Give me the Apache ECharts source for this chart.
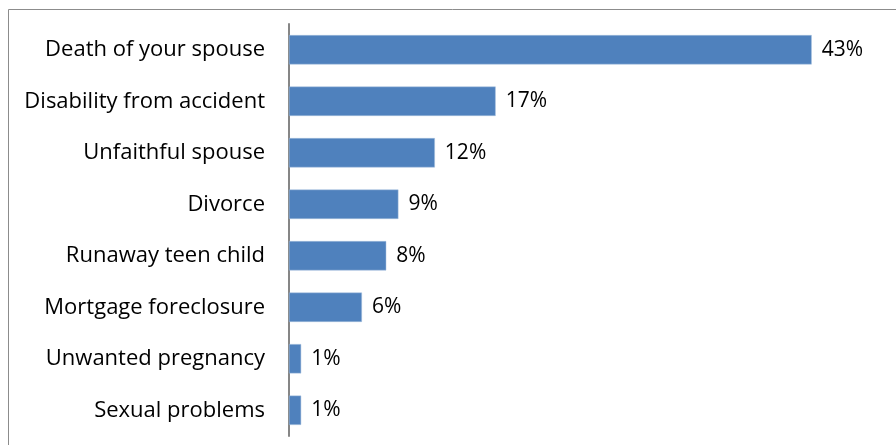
<!DOCTYPE html>
<html>
<head>
<meta charset="utf-8">
<script src="https://cdn.jsdelivr.net/npm/echarts@6/dist/echarts.min.js"></script>
<style>
html,body{margin:0;padding:0;background:#fff;}
#c{width:896px;height:445px;}
</style>
</head>
<body>
<div id="c"></div>
<script>
const categories = [
  "Death of your spouse",
  "Disability from accident",
  "Unfaithful spouse",
  "Divorce",
  "Runaway teen child",
  "Mortgage foreclosure",
  "Unwanted pregnancy",
  "Sexual problems"
];
const percentValues = [43, 17, 12, 9, 8, 6, 1, 1];

const chart = echarts.init(document.getElementById('c'), null, {renderer: 'canvas'});
const fontFam = '"Open Sans", Lato, sans-serif';
chart.setOption({
  backgroundColor: '#ffffff',
  animation: false,
  graphic: [{
    type: 'rect',
    shape: {x: 8.5, y: 9.5, width: 900, height: 450},
    style: {fill: 'none', stroke: '#8c8c8c', lineWidth: 1},
    silent: true,
    z: -1
  }],
  grid: {left: 289, right: 60, top: 24, bottom: 9, containLabel: false},
  xAxis: {
    type: 'value',
    min: 0,
    max: 45,
    show: false
  },
  yAxis: {
    type: 'category',
    data: categories,
    inverse: true,
    axisLine: {show: true, lineStyle: {color: '#868686', width: 2}},
    axisTick: {show: false},
    axisLabel: {
      color: '#000',
      fontFamily: fontFam,
      fontSize: 22,
      margin: 24
    },
    splitLine: {show: false}
  },
  series: [{
    type: 'bar',
    data: percentValues,
    barCategoryGap: '43%',
    itemStyle: {color: '#4f81bd', borderColor: '#a7c0de', borderWidth: 0.5},
    label: {
      show: true,
      position: 'right',
      distance: 10,
      color: '#000',
      fontFamily: fontFam,
      fontSize: 21,
      formatter: p => p.value + '%'
    }
  }]
});
</script>
</body>
</html>
